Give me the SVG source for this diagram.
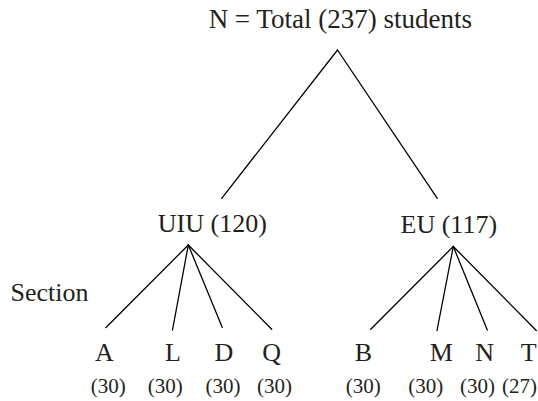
<svg xmlns="http://www.w3.org/2000/svg" width="538" height="401" viewBox="0 0 538 401">
<style>
text{fill:#231f20}
.t{font-size:27px}
.n{font-size:26px}
.c{font-size:21px}
.m{text-anchor:middle}
line{stroke:#000;stroke-width:1.3;stroke-linecap:round}
</style>
<rect width="538" height="401" fill="#fff"/>
<g id="connectors">
<line x1="337.5" y1="50" x2="221.7" y2="198.3"/>
<line x1="337.5" y1="50" x2="437.3" y2="198.3"/>
<line x1="188.3" y1="245" x2="106" y2="327.5"/>
<line x1="188.3" y1="245" x2="172.5" y2="330"/>
<line x1="188.3" y1="245" x2="222.3" y2="327.5"/>
<line x1="188.3" y1="245" x2="271.7" y2="329.3"/>
<line x1="453.3" y1="246.5" x2="370.7" y2="329.3"/>
<line x1="453.3" y1="246.5" x2="437" y2="330.5"/>
<line x1="453.3" y1="246.5" x2="487.3" y2="330"/>
<line x1="453.3" y1="246.5" x2="536.3" y2="330.5"/>
</g>
<g font-family="'Liberation Serif', 'Times New Roman', 'DejaVu Serif', serif">
<g id="root"><text class="t m" x="340.3" y="27.5">N = Total (237) students</text></g>
<g id="uiu"><text class="n m" x="212.3" y="232">UIU (120)</text></g>
<g id="eu"><text class="n m" x="448.8" y="232.5">EU (117)</text></g>
<g id="section-label"><text class="n" x="10.5" y="301">Section</text></g>
<g id="sec-A"><text class="n m" x="104.5" y="360.5">A</text><text class="c m" x="108.3" y="393">(30)</text></g>
<g id="sec-L"><text class="n m" x="173" y="360.5">L</text><text class="c m" x="165.2" y="393">(30)</text></g>
<g id="sec-D"><text class="n m" x="224" y="360.5">D</text><text class="c m" x="223" y="393">(30)</text></g>
<g id="sec-Q"><text class="n m" x="271.7" y="360.5">Q</text><text class="c m" x="274.5" y="393">(30)</text></g>
<g id="sec-B"><text class="n m" x="363.4" y="360.5">B</text><text class="c m" x="363.2" y="393">(30)</text></g>
<g id="sec-M"><text class="n m" x="441.3" y="360.5">M</text><text class="c m" x="425.8" y="393">(30)</text></g>
<g id="sec-N"><text class="n m" x="484.7" y="360.5">N</text><text class="c m" x="477.5" y="393">(30)</text></g>
<g id="sec-T"><text class="n m" x="528.8" y="360.5">T</text><text class="c m" x="519.5" y="393">(27)</text></g>
</g>
</svg>
